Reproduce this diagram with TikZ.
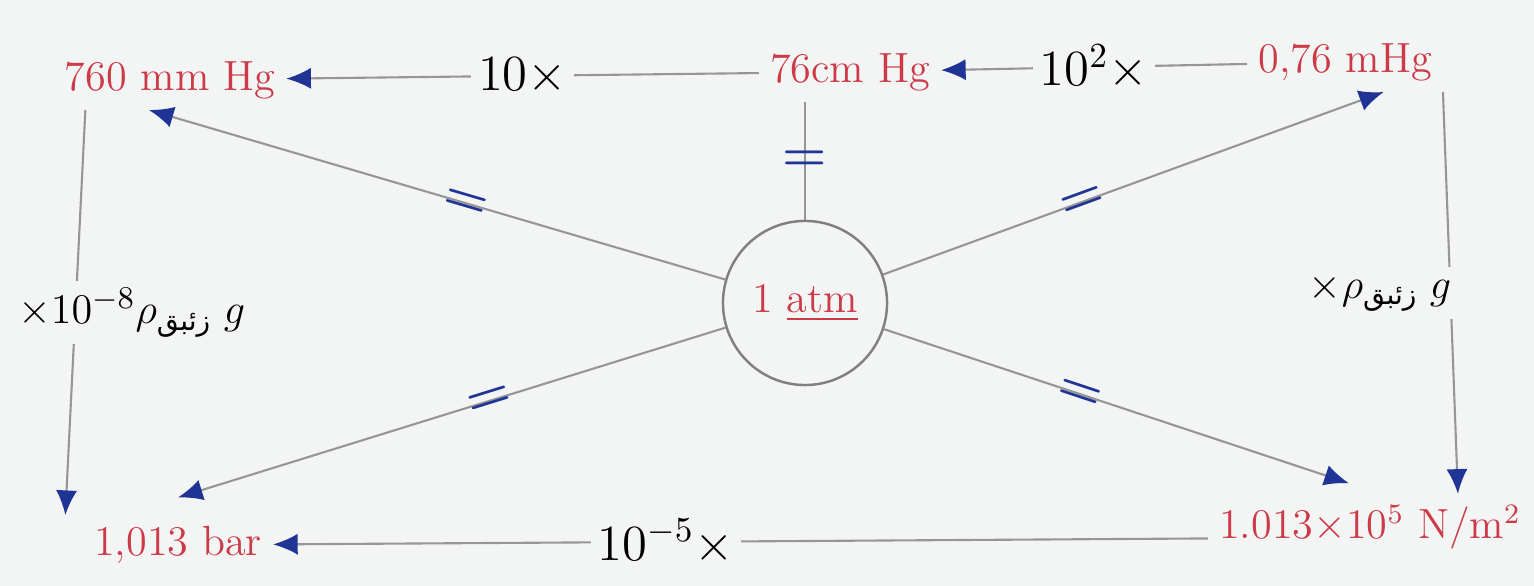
\documentclass[tikz,border=0pt]{standalone}
\usepackage{amsmath,amssymb}
\usepackage{fontspec}
\usepackage{tikz}
\usetikzlibrary{arrows.meta}
\TeXXeTstate=1
\newfontfamily\arabicfont[Script=Arabic]{DejaVu Sans}
\definecolor{paper}{RGB}{243,245,244}
\definecolor{inkred}{RGB}{204,58,72}
\definecolor{inkblue}{RGB}{32,52,150}
\definecolor{rulegray}{RGB}{150,150,150}
\newcommand{\Merc}{\mbox{\arabicfont\fontsize{8}{9}\selectfont\beginR زئبق\endR}}

\begin{document}
\begin{tikzpicture}[x=0.01cm, y=-0.01cm, ->, >={Latex[length=7pt,width=6pt,color=inkblue]},
  every edge/.style={draw=rulegray, line width=0.6pt},
  unit/.style={text=inkred, font=\fontsize{12}{14}\selectfont, inner sep=3pt},
  mult/.style={text=black, fill=paper, font=\fontsize{14}{16}\selectfont, inner sep=2pt},
  eq/.style={text=inkblue, font=\Large\bfseries, inner sep=0pt}]
%
\fill[paper, -] (0,0) rectangle (1534,586);
\useasboundingbox (0,0) rectangle (1534,586);
%
\node (atm) [circle, draw=gray, line width=0.7pt, text=inkred, font=\fontsize{12}{14}\selectfont, minimum size=1.64cm] at (805,303) {1 \underline{atm}};
\node (mmhg) [unit] at (170,80) {760 mm Hg};
\node (cmhg) [unit] at (850,72) {76cm Hg};
\node (mhg) [unit] at (1345,62) {0,76 mHg};
\node (bar) [unit] at (178,545) {1,013 bar};
\node (nm) [unit] at (1370,527) {1.013$\times$10$^{5}$ N/m$^{2}$};
%
\path (mhg) edge node[mult] {$10^{2}\times$} (cmhg);
\path (cmhg) edge node[mult] {$10\times$} (mmhg);
\path (nm.base west) edge node[mult, pos=0.58] {$10^{-5}\times$} (bar);
\path ([xshift=9pt]mmhg.south west) edge node[mult, xshift=16pt, font=\fontsize{13}{15}\selectfont] {$\times10^{-8}\rho_{\Merc}\;g$} ([xshift=-5pt]bar.north west);
\path (mhg.south east) edge node[mult, xshift=-20pt, font=\fontsize{13}{15}\selectfont] {$\times\rho_{\Merc}\;g$} ([xshift=25pt]nm.north);
%
\path (atm) edge[-] node[eq] {=} (atm |- cmhg.south);
\path (atm) edge node[eq, sloped, pos=0.45] {=} ([xshift=-6pt]mmhg.south);
\path (atm) edge node[eq, sloped, pos=0.4] {=} ([xshift=11pt]mhg.south);
\path (atm) edge node[eq, sloped, pos=0.43] {=} ([yshift=5pt]bar.north);
\path (atm) edge node[eq, sloped, pos=0.42] {=} ([xshift=-6pt,yshift=3pt]nm.north);
\end{tikzpicture}
\end{document}
